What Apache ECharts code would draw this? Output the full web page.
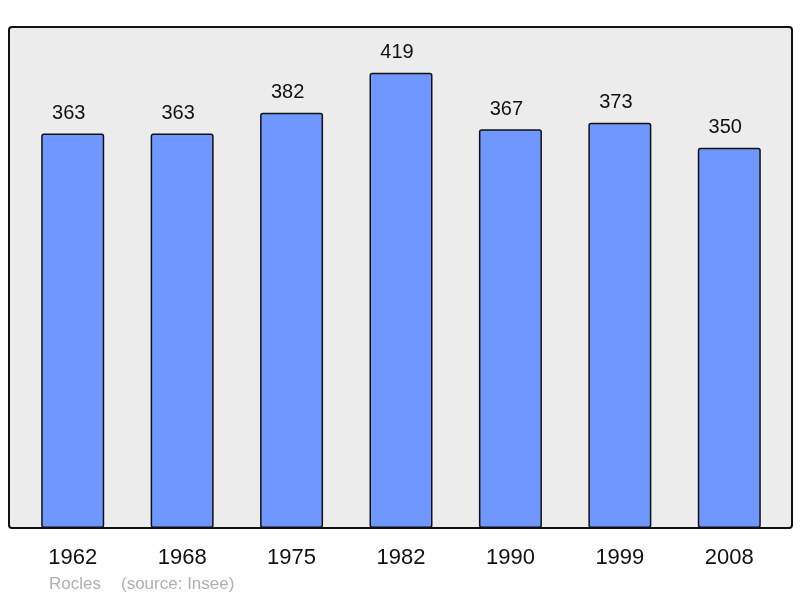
<!DOCTYPE html>
<html style="height: 100%">
<head>
  <meta charset="utf-8">
  <script src="https://cdn.jsdelivr.net/npm/echarts@6/dist/echarts.min.js"></script>
  <style type="text/css">
    * { margin: 0; padding: 0; }
  </style>
</head>
<body style="height: 100%; margin: 0; background: #fff">
  <div id="container" style="width: 800px; height: 598px"></div>
  <script type="text/javascript">
    var years = ['1962', '1968', '1975', '1982', '1990', '1999', '2008'];
    var population = [363, 363, 382, 419, 367, 373, 350];
    var placeName = 'Rocles';
    var sourceText = '(source: Insee)';

    var font = '"Liberation Sans", Arial, sans-serif';
    var myChart = echarts.init(document.getElementById('container'));
    var option = {
      animation: false,
      graphic: [
        {
          type: 'rect',
          z: -1,
          shape: { x: 9, y: 27, width: 783, height: 501, r: 3 },
          style: { fill: '#ececec', stroke: '#111', lineWidth: 2 }
        },
        {
          type: 'text',
          left: 49,
          top: 576,
          style: { text: placeName, fill: '#b0b0b0', font: '17px ' + font }
        },
        {
          type: 'text',
          left: 121,
          top: 576,
          style: { text: sourceText, fill: '#b0b0b0', font: '17px ' + font }
        }
      ],
      grid: { left: 18, right: 16, top: 27, bottom: 70 },
      xAxis: {
        type: 'category',
        data: years,
        axisLine: { show: false },
        axisTick: { show: false },
        axisLabel: {
          margin: 19,
          fontSize: 22,
          color: '#111',
          fontFamily: font
        }
      },
      yAxis: {
        type: 'value',
        min: 0,
        max: 461,
        show: false,
        splitLine: { show: false }
      },
      series: [{
        type: 'bar',
        data: population,
        barWidth: 63,
        itemStyle: { color: '#7097ff', borderColor: '#111', borderWidth: 1.5, borderRadius: 2 },
        label: {
          show: true,
          position: 'top',
          distance: 10,
          offset: [-4, 0],
          fontSize: 20,
          color: '#111',
          fontFamily: font
        }
      }]
    };
    myChart.setOption(option);
  </script>
</body>
</html>
